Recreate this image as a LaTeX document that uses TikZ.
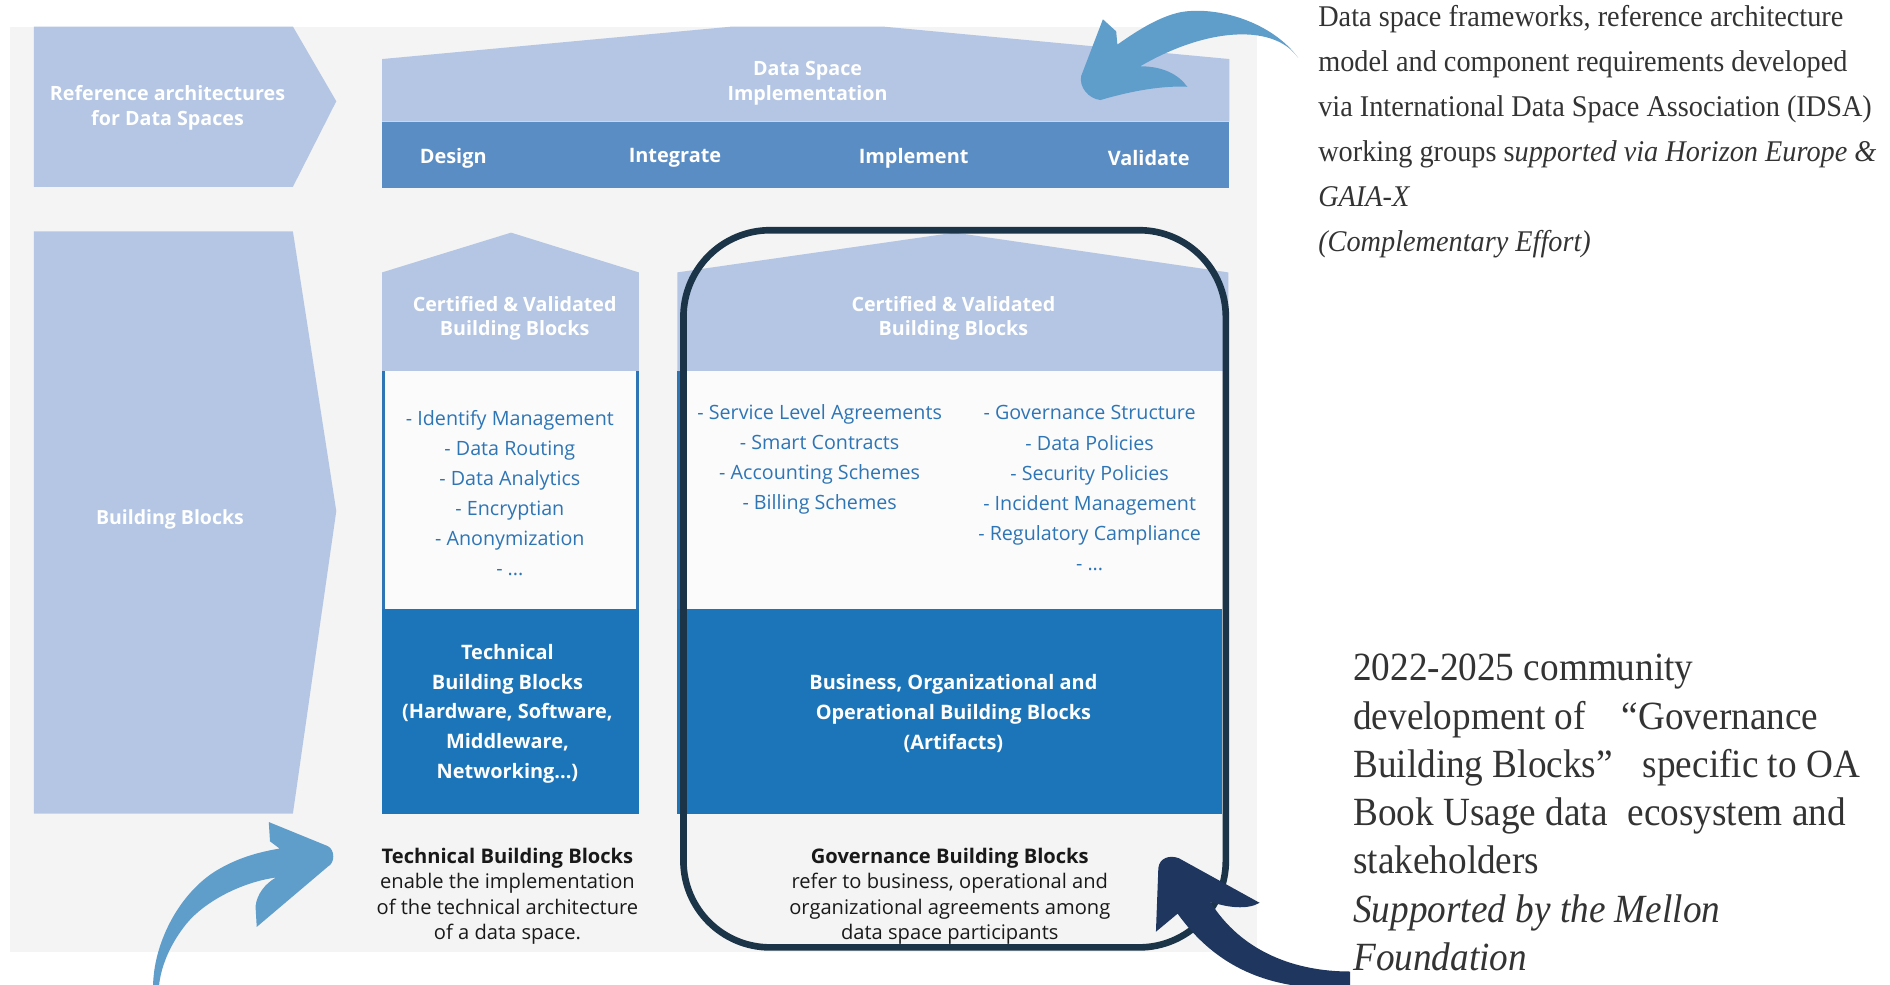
\documentclass[tikz,border=0pt]{standalone}
\usepackage{fontspec}
\setmainfont{Liberation Serif}[FakeStretch=0.94]
\newfontfamily\mellonfont{Liberation Serif}[FakeStretch=0.93]
\newfontfamily\dsfont{Open Sans}
\usetikzlibrary{positioning}

\definecolor{panelgray}{HTML}{F4F4F4}
\definecolor{roofblue}{HTML}{B4C6E4}
\definecolor{barblue}{HTML}{5B8DC5}
\definecolor{bandblue}{HTML}{1B75B8}
\definecolor{listblue}{HTML}{2E75B6}
\definecolor{framenavy}{HTML}{1B3447}
\definecolor{swooshlight}{HTML}{5F9DCA}
\definecolor{swooshdark}{HTML}{1F365E}
\definecolor{notegray}{HTML}{333333}

\tikzstyle{whitelabel} = [text=white, font=\dsfont\bfseries\fontsize{4.65}{5.8}\selectfont, align=center, inner sep=0pt]
\tikzstyle{barlabel} = [text=white, font=\dsfont\bfseries\fontsize{4.7}{6}\selectfont, inner sep=0pt]
\tikzstyle{listtext} = [text=listblue, font=\dsfont\fontsize{4.65}{7.1}\selectfont, align=center, inner sep=0pt]
\tikzstyle{bandtext} = [text=white, font=\dsfont\bfseries\fontsize{4.7}{7.0}\selectfont, align=center, inner sep=0pt]
\tikzstyle{caption} = [text=black!90, font=\dsfont\fontsize{4.75}{6}\selectfont, align=center, inner sep=0pt]
\tikzstyle{note} = [text=notegray, align=left, anchor=north west, inner sep=0pt]

\begin{document}
\begin{tikzpicture}[x=0.1mm, y=-0.1mm]
    \useasboundingbox (0,0) rectangle (1568,817);
    \fill[panelgray] (8,22) rectangle (1043,790);

    % left arrows
    \fill[roofblue] (28,22) -- (243,22) -- (279,84) -- (243,155) -- (28,155) -- cycle;
    \fill[roofblue] (28,192) -- (243,192) -- (279,424) -- (243,675) -- (28,675) -- cycle;

    % implementation roof and bar
    \fill[roofblue] (317,49) -- (608,22) -- (732,22) -- (1020,49) -- (1020,101) -- (317,101) -- cycle;
    \fill[barblue] (317,101) rectangle (1020,156);

    % technical column
    \fill[roofblue] (317,226) -- (424,193) -- (530,226) -- (530,308) -- (317,308) -- cycle;
    \fill[white!60!panelgray] (317,308) rectangle (530,505);
    \draw[listblue, line width=0.2mm] (318,308) -- (318,505) (529,308) -- (529,505);
    \fill[bandblue] (317,505) rectangle (530,675);

    % governance column
    \fill[roofblue] (562,226) -- (792,193) -- (1019,226) -- (1019,308) -- (562,308) -- cycle;
    \fill[white!60!panelgray] (562,308) rectangle (1014,505);
    \draw[listblue, line width=0.2mm] (563,308) -- (563,505);
    \fill[bandblue] (562,505) rectangle (1014,675);
    \draw[framenavy, line width=0.55mm, rounded corners=7.2mm] (567,191) rectangle (1017,786);

    \node (refarch) [whitelabel] at (139,89.5) {Reference architectures\\for Data Spaces};
    \node (bblocks) [text=white, font=\dsfont\bfseries\fontsize{4.6}{6}\selectfont, inner sep=0pt] at (141,431) {Building Blocks};
    \node (dsimpl) [whitelabel] at (670,69) {Data Space\\Implementation};
    \node (design) [barlabel] at (376,131) {Design};
    \node (integrate) [barlabel] at (560,131) {Integrate};
    \node (implement) [barlabel] at (758,131) {Implement};
    \node (validate) [barlabel] at (953,131) {Validate};

    \node (techroof) [whitelabel] at (427,264) {Certified \& Validated\\Building Blocks};
    \node (govroof) [whitelabel] at (791,264) {Certified \& Validated\\Building Blocks};

    \node (techlist) [listtext] at (423,409) {- Identify Management\\- Data Routing\\- Data Analytics\\- Encryptian\\- Anonymization\\- ...};
    \node (bizlist) [listtext] at (680,381) {- Service Level Agreements\\- Smart Contracts\\- Accounting Schemes\\- Billing Schemes};
    \node (govlist) [listtext] at (904,405) {- Governance Structure\\- Data Policies\\- Security Policies\\- Incident Management\\- Regulatory Campliance\\- ...};

    \node (techband) [bandtext] at (421,592) {Technical\\Building Blocks\\(Hardware, Software,\\Middleware,\\Networking...)};
    \node (govband) [bandtext] at (791,592) {Business, Organizational and\\Operational Building Blocks\\(Artifacts)};

    \node (techcap) [caption] at (421,743.5) {\textbf{Technical Building Blocks}\\enable the implementation\\of the technical architecture\\of a data space.};
    \node (govcap) [caption] at (788,743.5) {\textbf{Governance Building Blocks}\\refer to business, operational and\\organizational agreements among\\data space participants};

    % notes on the right
    \node (idsanote) [note, font=\fontsize{7.1}{10.6}\selectfont] at (1093,4) {Data space frameworks, reference architecture\\model and component requirements developed\\via International Data Space Association (IDSA)\\working groups s\textit{upported via Horizon Europe \&}\\\textit{GAIA-X}\\\textit{(Complementary Effort)}};
    \node (mellonnote) [note, font=\mellonfont\fontsize{9.45}{11.4}\selectfont] at (1122,542) {2022-2025 community\\development of\hspace{0.9em}“Governance\\Building Blocks”\hspace{0.75em}specific to OA\\Book Usage data\hspace{0.5em}ecosystem and\\stakeholders\\\textit{Supported by the Mellon}\\\textit{Foundation}};

    % swoosh arrows
    \fill[swooshlight] (1077,48) .. controls (1055,18) and (1010,5) .. (980,10)
        .. controls (960,14) and (940,28) .. (927,37) -- (926,26) -- (915,16)
        -- (897,63) .. controls (895,72) and (903,82) .. (913,83)
        .. controls (940,75) and (965,71) .. (985,72)
        .. controls (978,62) and (965,55) .. (946,55)
        .. controls (975,38) and (1010,26) .. (1040,29)
        .. controls (1058,31) and (1070,38) .. (1077,48) -- cycle;
    \fill[swooshlight] (127,817) .. controls (128,780) and (150,740) .. (180,722)
        .. controls (200,710) and (220,706) .. (232,704) -- (224,698) -- (223,682)
        -- (272,702) .. controls (278,705) and (278,716) .. (272,719) -- (213,769)
        -- (212,752) .. controls (213,742) and (220,733) .. (229,728)
        .. controls (200,732) and (170,748) .. (155,766)
        .. controls (142,782) and (134,800) .. (132,817) -- cycle;
    \fill[swooshdark] (959,773) -- (961,720) .. controls (962,712) and (970,709) .. (978,712)
        -- (1045,749) .. controls (1035,755) and (1018,753) .. (1004,748)
        .. controls (1030,790) and (1075,806) .. (1120,806) -- (1120,817)
        -- (1070,817) .. controls (1030,810) and (1000,790) .. (977,758) -- cycle;
\end{tikzpicture}
\end{document}
